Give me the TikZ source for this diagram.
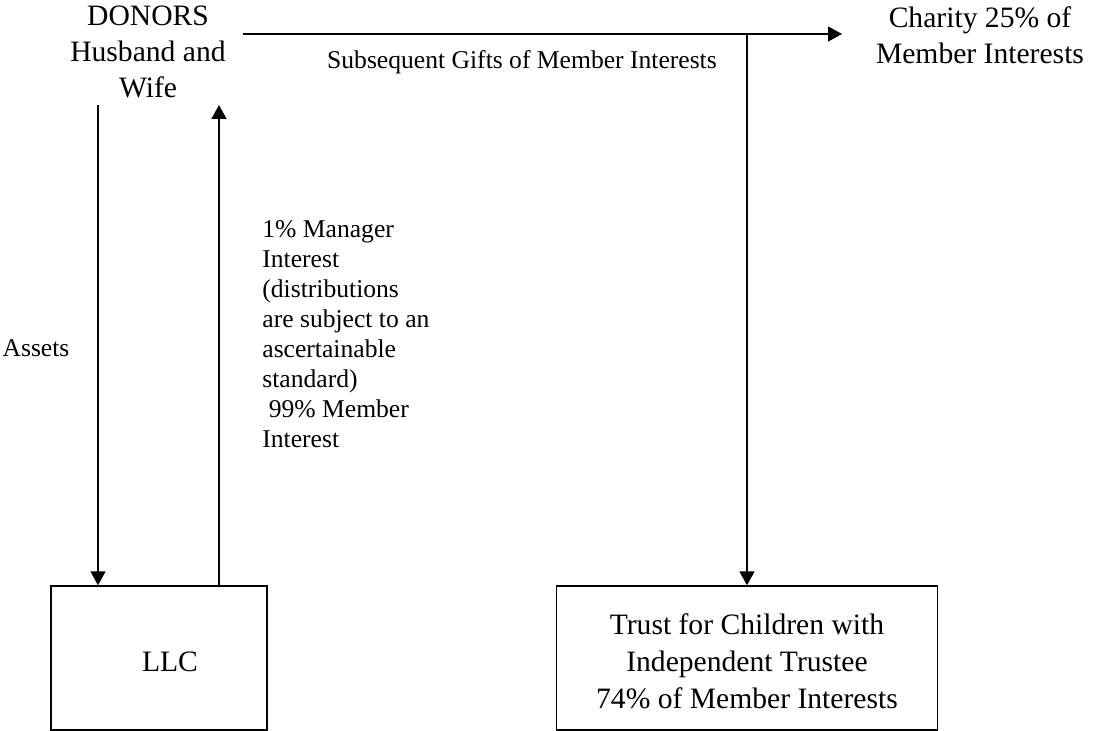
\documentclass[tikz,border=0pt]{standalone}
\usepackage{fontspec}
\setmainfont{Liberation Serif}
\usetikzlibrary{arrows.meta}

\tikzset{
  big/.style={font=\fontsize{14.8}{18}\selectfont, align=center, inner sep=0pt},
  small/.style={font=\fontsize{12.8}{15}\selectfont, inner sep=0pt},
  entity/.style={draw, line width=0.65pt, minimum width=108pt, minimum height=72pt, inner sep=0pt},
  flow/.style={line width=0.7pt, -{Triangle[length=7pt,width=7.5pt]}}
}

\begin{document}
\begin{tikzpicture}[x=0.5pt, y=-0.5pt]
	\useasboundingbox (0,0) rectangle (1100,731);

	\node[big] (donors)  at (148,52) {DONORS\\Husband and\\Wife};
	\node[big] (charity) at (980,35) {Charity 25\% of\\Member Interests};

	\node[entity, minimum width=108pt] (llc) at (159,658) {};
	\node[big] (llctext) at (170,662) {LLC};
	\node[entity, minimum width=190.5pt] (trust) at (747,658) {};
	\node[big, font=\fontsize{14.8}{18.5}\selectfont] (trusttext) at (747,661)
		{Trust for Children with\\Independent Trustee\\74\% of Member Interests};

	\coordinate (gfrom)  at (243,34);
	\coordinate (gto)    at (842,34);
	\coordinate (split)  at (trust.north |- gfrom);
	\coordinate (assets) at (98,105);
	\coordinate (mgr)    at (219,105);

	\draw [flow] (gfrom) -- (gto);
	\draw [flow] (split) -- (trust.north);
	\draw [flow] (assets) -- (assets |- llc.north);
	\draw [flow] (mgr |- llc.north) -- (mgr);

	\node[small] (gifts) at (522,62) {Subsequent Gifts of Member Interests};
	\node[small] (assetlbl) at (36,348) {Assets};
	\node[small, align=left, anchor=north west] (mgrlbl) at (262,220)
		{1\% Manager\\Interest\\(distributions\\are subject to an\\ascertainable\\standard)\\\hspace{0.25em}99\% Member\\Interest};
\end{tikzpicture}
\end{document}
